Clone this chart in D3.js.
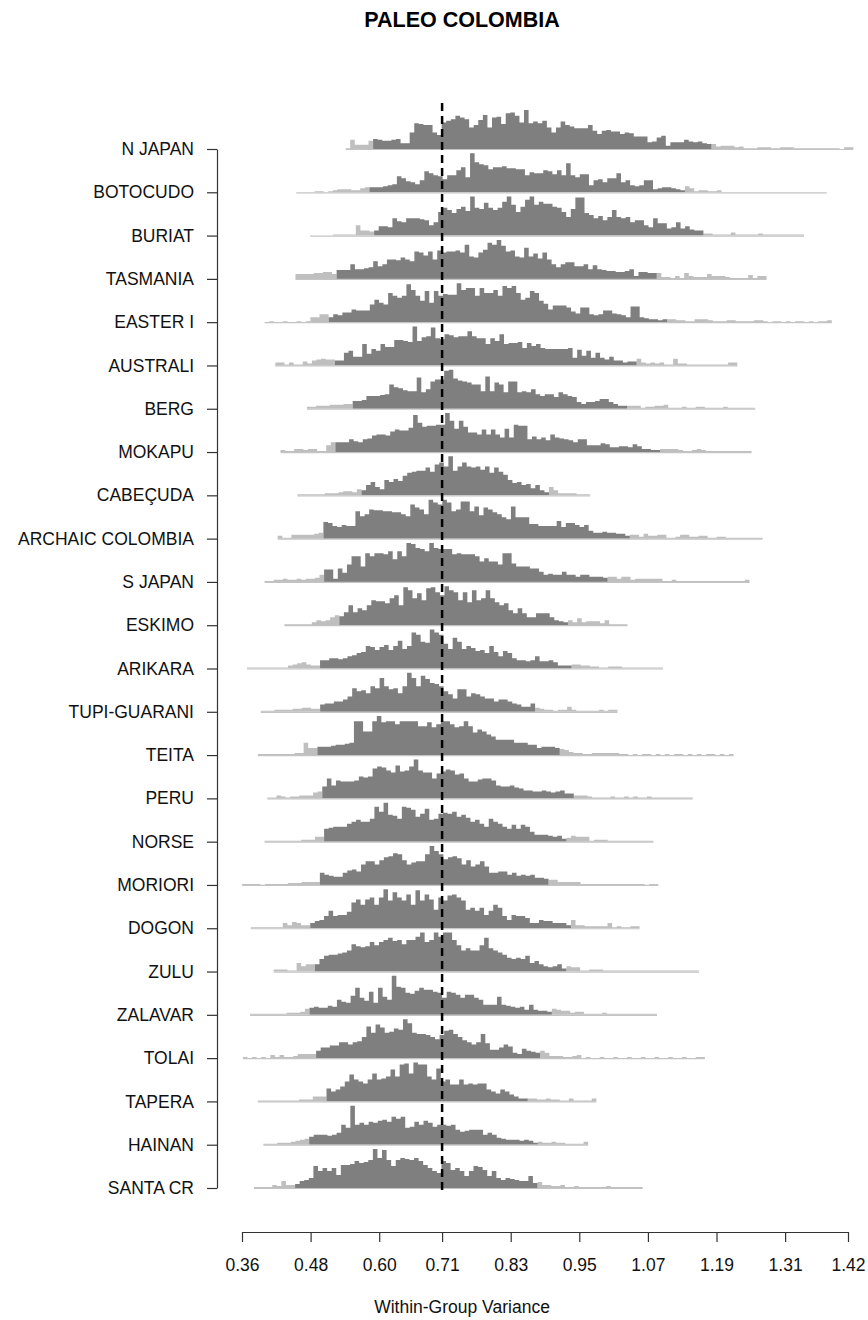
<!DOCTYPE html>
<html>
  <head>
    <meta charset="utf-8" />
    <title>Paleo Colombia</title>
    <script src="https://d3js.org/d3.v7.min.js"></script>
    <style>
      body { margin: 0; background: #fff; }
      text { font-family: "Liberation Sans", Arial, sans-serif; }
    </style>
  </head>
  <body>
    <script>
      // groups, top to bottom
      const groups = ["N JAPAN", "BOTOCUDO", "BURIAT", "TASMANIA", "EASTER I", "AUSTRALI", "BERG",
        "MOKAPU", "CABEÇUDA", "ARCHAIC COLOMBIA", "S JAPAN", "ESKIMO", "ARIKARA", "TUPI-GUARANI",
        "TEITA", "PERU", "NORSE", "MORIORI", "DOGON", "ZULU", "ZALAVAR", "TOLAI", "TAPERA",
        "HAINAN", "SANTA CR"];

      // lower edge of the first bin of each histogram
      const starts = [0.5413, 0.4549, 0.4791, 0.4535, 0.3996, 0.4183, 0.4736, 0.4273, 0.4570,
        0.4224, 0.3996, 0.4342, 0.3685, 0.3927, 0.3878, 0.4044, 0.3996, 0.3602, 0.3754, 0.4155,
        0.3740, 0.3616, 0.3878, 0.3975, 0.3809];
      const binWidth = 0.008;

      // first and last bin inside the central (dark) interval
      const darkFrom = [6, 16, 14, 9, 14, 13, 10, 12, 14, 10, 13, 12, 16, 13, 13, 12, 13, 17, 13, 9, 13, 16, 15, 10, 9];
      const darkTo = [79, 84, 85, 78, 87, 78, 69, 82, 54, 76, 74, 61, 70, 59, 65, 66, 65, 66, 69, 63, 65, 64, 58, 59, 61];

      // bin counts per group
      const counts = [
        [1,11,5,5,5,10,12,11,10,10,11,12,7,7, 20,31,30,29,29,20,17,32,34,36,40,38,36,26,29,35,41,
         26,38,39,30,43,44,40,32,47,31,33,31,34,26,20,26,33,29,27,25, 25,25,29,22,18,22,23,21,21,18,20,19,15,15,15,8,9,14,16,4,
         8,8,8,11,9,8,9,7,6,6,3,4,4,4,2,3,1,1,1,2, 2,2,1,1,2,2,2,1,1,1,1,1,1,1,1,1,1,0,2,2],
        [0,0,0,0,1,1,0,1,2,3,3,3,2,2,4,5, 5,5,5,6,7,8,16,14,11,10,8,12,21,19,17,16,13,17,17,22,
         25,15,39,30,28,27,23,25,25,26,24,24,23,23,17,20,19,19,22,21, 18,22,17,29,17,15,18,18,7,12,13,10,14,14,19,10,12,7,6,7,
         12,12,3,4,5,5,4,3,2,6,4,1,2,2,1,1,2, 0,0,0,0,0,0,0,0,0,0,0,0,0,0,0,0,0,0,0,0,0,0,0],
        [0,0,0,0,0,1,1,1,1,1,10,5,5,4, 5,9,9,8,17,14,13,17,17,17,16,15,10,13,23,27,25,22,26,28,
         24,38,27,26,32,27,25,27,33,38,30,23,28,35,38,30,33,31,31,28, 27,23,18,26,37,37,22,20,17,19,15,18,25,18,17,18,13,15,15,10,
         8,17,12,12,7,8,13,7,9,6,5,5, 2,2,1,1,1,1,3,1,1,1,1,1,2,1,1,1,1,1,1,1,1,1],
        [5,5,5,5,6,6,7,7,5, 9,9,9,15,10,10,11,12,18,13,15,20,20,19,22,20,18,28,27,24,
         28,20,29,27,28,28,29,27,35,23,22,27,30,37,35,40,34,28,29,23, 22,32,23,26,21,27,20,15,12,15,17,17,13,13,15,10,14,10,9,8,
         8,7,7,8,10,3,7,7,6,6, 6,2,2,1,3,1,6,3,2,2,2,5,3,3,3,2,1,1,1,1,4,1,3,3],
        [0,1,0,0,1,0,0,1,0,1,5,5,8,8, 5,8,7,10,10,13,12,12,12,18,23,20,18,30,27,25,27,39,33,27,
         22,32,20,32,27,29,28,28,40,33,35,35,27,35,30,30,33,27,37,35, 37,30,23,25,32,30,22,19,13,17,17,17,15,11,9,15,15,8,7,8,
         12,12,9,8,7,5,16,16,5,4,3,3,2,3, 3,3,2,2,1,1,3,3,3,2,1,1,1,2,2,1,1,1,1,2,2, 1,0,1,1,0,1,0,1,1,0,1,0,1,1,2],
        [3,3,1,3,1,1,4,2,5,6,7,6,6, 5,5,13,15,9,9,22,12,17,15,22,19,19,26,26,25,24,40,25,29,
         30,39,28,27,32,31,29,30,30,35,30,28,28,22,28,25,32,22,23,23, 24,18,23,20,22,18,17,17,17,17,17,18,8,16,10,15,8,13,8,6,
         9,5,5,3,4,4, 7,3,2,3,2,3,1,1,7,2,2,1,1,1,1,1,1,1,1,1,3,3],
        [2,2,3,3,3,4,4,4,5,5, 8,8,9,13,13,13,14,15,25,22,21,19,18,18,32,17,20,28,30,30,
         39,40,31,29,28,27,25,25,18,33,18,27,25,17,28,28,17,18,17,20, 15,13,15,15,12,17,15,13,12,7,5,7,7,8,10,10,7,5,3,3,
         3,3,3,1,2,2,3,3,4,1,1,1,2,1,1,2,2,1,1,1,1,2,1,1,1,1,1,1],
        [2,1,1,3,3,2,3,3,1,1,7,10, 10,10,10,13,11,10,13,14,17,18,18,17,21,23,22,22,25,38,30,26,
         27,27,28,28,40,32,24,32,26,20,20,18,23,18,23,18,15,24,15,28, 27,27,13,16,13,15,12,18,15,14,13,12,10,13,13,7,7,7,9,8,
         5,5,6,6,5,8,6,3,3,2,2, 3,3,3,3,2,1,1,2,3,2,1,1,1,1,1,1,1,1,1,1],
        [1,1,1,1,1,1,2,2,2,3,4,4,3,6, 5,10,13,8,6,15,13,16,14,19,22,23,24,24,27,23,30,32,28,38,
         24,28,32,28,27,28,25,28,22,27,23,20,15,12,13,10,11,7,10,5,3, 8,5,2,2,2,2,1,1,1],
        [3,1,1,4,4,4,4,4,5,6, 17,16,13,12,14,13,13,28,23,25,30,29,29,28,28,27,27,25,23,35,
         32,30,25,40,37,35,40,37,28,30,38,38,28,33,24,32,30,27,25,22, 20,33,22,22,22,15,15,13,13,13,13,18,12,16,16,14,12,14,8,6,
         6,7,6,6,5,5,3, 4,4,2,5,3,3,4,4,1,1,2,4,4,2,2,3,3,1,1,2,2,1,1,1,1,1,1,1,1],
        [1,1,2,2,3,2,2,3,2,3,3,4,7, 12,12,3,13,9,17,25,25,15,28,25,28,28,27,30,22,30,25,38,37,
         33,32,30,38,33,32,32,32,27,28,27,27,27,25,20,23,20,20,17,28, 28,18,15,15,15,13,13,10,7,8,7,7,10,7,7,5,7,7,5,5,5,4,
         5,5,3,5,5,2,3,3,3,3,3,3,1,1,2,1,1,1,1,1,1,1,1,1,1,1,1,1,1,1,2],
        [1,1,1,1,1,1,3,5,4,5,8,10, 9,13,20,13,17,15,20,25,24,24,22,27,30,20,38,35,27,32,25,37,
         38,33,30,39,35,33,25,33,23,35,25,27,35,27,23,20,22,15,12,17, 12,8,8,12,12,12,8,5,4,3, 5,3,7,3,4,4,4,2,5,1,1,1,1],
        [1,1,1,1,1,1,1,1,1,3,4,5,6,4,3,3, 8,8,10,10,9,10,12,13,15,16,22,21,18,21,23,18,22,27,19,22,
         35,33,26,25,38,35,33,24,19,30,26,19,22,20,17,18,15,22,16,12, 17,15,10,8,8,7,8,12,7,7,8,6,3,3,3,
         4,4,3,3,2,2,1,1,2,2,2,1,1,1,1,1,1,1,1,1],
        [1,1,1,2,2,2,2,3,3,4,4,3,3, 7,8,8,10,10,12,15,23,20,21,18,25,23,33,25,22,23,18,25,38,
         33,25,35,32,28,27,25,20,17,13,22,22,15,18,17,15,13,13,10,12, 12,10,8,7,5,5,8, 4,3,2,2,1,2,2,5,2,1,1,1,1,1,2,1,2,2],
        [1,1,1,1,1,1,1,1,2,2,12,7,7, 8,8,8,9,10,10,11,12,33,33,23,23,33,38,32,33,33,30,33,33,
         33,33,28,28,32,27,30,33,33,30,27,28,33,28,22,25,23,20,18,15, 15,15,15,12,12,12,10,10,7,8,8,8,7,
         6,5,3,2,2,1,1,2,2,2,2,2,2,1, 1,0,1,0,1,1,0,1,0,1,0,1,1,0,1,0,1,0,1,1,0,1,0,1],
        [1,1,3,2,1,2,2,3,3,3,6,7, 12,20,13,18,17,17,17,18,22,21,22,30,32,31,28,26,33,27,28,32,
         39,28,26,26,20,25,27,29,28,24,25,20,17,17,19,20,20,18,13,12, 12,13,11,10,8,8,7,7,8,7,6,7,8,5,5,
         3,3,3,2,1,1,1,1,2,1,1,2,1,2,1,1,2,1,1,1,1,1,1,1,1,1],
        [1,1,1,1,1,1,1,1,2,2,2,5,5, 13,14,15,15,15,18,20,22,20,20,23,35,30,39,27,26,23,35,34,32,
         25,28,33,22,23,28,29,28,30,25,27,24,20,22,18,15,23,20,18,15, 13,17,13,17,15,10,7,7,7,6,5,6,3,
         4,6,5,5,5,1,2,2,2,1,1,1,1,1,1,1,1,1,1],
        [1,1,1,1,0,1,1,1,1,1,2,2,2,3,3,3,3, 12,10,9,8,8,12,14,15,13,20,23,23,20,24,27,28,31,30,24,20,
         22,23,23,30,38,33,30,25,27,28,26,20,24,18,20,23,18,12,12,13, 13,10,12,9,10,9,10,7,7,6,
         5,5,3,3,3,3,3,1,1,1,1,1,1,1,1,1,1,1,1,1,1,0,1,1],
        [1,1,1,1,1,1,1,5,3,6,5,3,3, 5,7,8,12,17,12,13,13,16,25,28,23,28,30,23,30,38,27,35,30,
         27,33,23,37,27,33,28,18,30,27,32,33,30,27,18,20,17,20,13,17, 23,20,12,8,13,12,12,10,5,5,8,7,7,5,5,5,3,
         8,3,3,2,2,2,2,2,5,1,2,1,1,2,2],
        [2,2,2,1,1,8,5,7,7, 7,12,15,16,16,17,18,20,26,24,23,24,28,25,28,30,32,29,30,26,
         30,30,33,37,28,30,37,33,37,37,30,25,20,22,20,20,25,32,22,20, 18,16,13,12,13,12,15,8,10,7,5,4,5,7,3,
         5,4,4,1,1,2,2,2,1,1,1,1,1,1,1,1,1,1,1,1,1,1,1,1,1,1,1,1,1],
        [1,1,1,1,1,1,1,1,2,2,2,3,6, 7,8,7,7,9,8,15,13,12,19,27,17,14,23,12,27,18,15,39,28,
         27,22,21,24,27,25,25,23,22,17,23,22,20,17,20,20,17,15,10,10, 10,18,10,9,8,7,8,5,10,5,4,4,3,
         6,5,4,4,2,3,3,1,1,1,1,2,1,1,1,1,1,1,1,1,1,1,1],
        [1,0,1,0,1,0,3,1,3,1,1,2,4,4,4,4, 7,10,10,12,12,15,15,13,15,16,20,30,24,32,29,24,25,28,27,37,
         33,24,23,23,22,20,18,22,26,27,23,20,17,15,13,15,23,14,8,8, 10,13,11,5,4,9,7,6,5, 7,5,2,2,2,1,1,2,3,
         0,1,0,0,1,0,0,1,0,0,1,0,0,1,0,0,1,0,0,1,0,0,1,0,0,1,1],
        [1,1,1,1,1,1,1,1,1,2,2,2,5,5,5, 13,10,12,15,20,27,22,20,18,22,28,22,23,25,32,25,37,38,28,39,
         37,37,25,22,33,20,22,17,17,22,17,18,17,18,18,12,10,8,12,10, 7,5,3,3, 3,3,2,2,3,2,2,1,1,3,1,1,1,1,3],
        [1,1,1,2,2,2,3,4,5,6, 8,10,10,10,9,10,12,20,17,39,20,22,20,23,22,24,25,23,28,26,
         28,17,18,23,20,24,22,18,20,20,19,20,15,13,14,15,15,15,10,12, 10,7,6,5,5,5,4,5,4,2, 3,2,2,3,2,2,1,1,1,1,3],
        [1,1,1,1,3,2,7,3,3, 4,7,8,10,22,17,20,17,20,13,23,23,24,27,25,26,28,39,30,38,
         28,22,28,30,29,28,30,27,23,20,17,15,27,25,18,20,17,12,17,22, 21,18,12,17,10,8,10,9,8,7,7,12,5,
         6,3,3,2,2,3,1,1,2,1,1,1,1,1,1,2,1,1,1,1,1,1,1]
      ];

      // axis
      const tickVals = [0.36, 0.48, 0.60, 0.71, 0.83, 0.95, 1.07, 1.19, 1.31, 1.42];
      const refValue = 0.71;

      const width = 868, height = 1320;
      const svg = d3.select("body").append("svg")
        .attr("width", width)
        .attr("height", height);

      const x = d3.scaleLinear().domain([0.36, 1.42]).range([242, 848]);
      const y = d3.scalePoint().domain(groups).range([149, 1188]);
      const barMax = 39;

      const darkCol = "#7f7f7f", lightCol = "#bfbfbf";

      groups.forEach((g, r) => {
        const c = counts[r];
        const h = d3.scaleLinear().domain([0, d3.max(c)]).range([0, barMax]);
        const base = y(g);
        const bins = c.map((v, i) => ({
          x0: starts[r] + i * binWidth,
          x1: starts[r] + (i + 1) * binWidth,
          v: v
        }));

        // split into left tail, central part, right tail
        const parts = [
          { bins: bins.slice(0, darkFrom[r]), fill: lightCol },
          { bins: bins.slice(darkTo[r] + 1), fill: lightCol },
          { bins: bins.slice(darkFrom[r], darkTo[r] + 1), fill: darkCol }
        ];

        const area = d3.area()
          .x(d => x(d.x))
          .y0(base)
          .y1(d => base - h(d.v))
          .curve(d3.curveStepAfter);

        parts.forEach(p => {
          if (!p.bins.length) return;
          const pts = p.bins.map(b => ({ x: b.x0, v: b.v }));
          const last = p.bins[p.bins.length - 1];
          pts.push({ x: last.x1, v: last.v });
          svg.append("path")
            .datum(pts)
            .attr("d", area)
            .attr("fill", p.fill);
        });

        // thin line over the full range of the values
        svg.append("line")
          .attr("x1", x(bins[0].x0))
          .attr("x2", x(bins[bins.length - 1].x1))
          .attr("y1", base + 0.5)
          .attr("y2", base + 0.5)
          .attr("stroke", "#c4c4c4")
          .attr("stroke-width", 1.2);
      });

      // reference line
      svg.append("line")
        .attr("x1", x(refValue))
        .attr("x2", x(refValue))
        .attr("y1", 103)
        .attr("y2", 1191)
        .attr("stroke", "#000")
        .attr("stroke-width", 2.5)
        .attr("stroke-dasharray", "8,5");

      // y axis with group names
      const yAxis = svg.append("g")
        .attr("transform", "translate(217,0)")
        .call(d3.axisLeft(y).tickSize(10).tickPadding(13).tickSizeOuter(0));
      yAxis.selectAll("text")
        .attr("font-size", "17.5px")
        .attr("font-family", "Liberation Sans, Arial, sans-serif")
        .attr("fill", "#111");
      yAxis.selectAll("path, line").attr("stroke", "#333").attr("stroke-width", 1.2);

      // x axis
      const xAxis = svg.append("g")
        .attr("transform", "translate(0,1232)")
        .call(d3.axisBottom(x).tickValues(tickVals).tickFormat(d3.format(".2f"))
          .tickSize(10).tickPadding(17).tickSizeOuter(0));
      xAxis.selectAll("text")
        .attr("font-size", "17.5px")
        .attr("font-family", "Liberation Sans, Arial, sans-serif")
        .attr("fill", "#111");
      xAxis.selectAll("path, line").attr("stroke", "#333").attr("stroke-width", 1.2);

      svg.append("text")
        .attr("x", 462)
        .attr("y", 1313)
        .attr("text-anchor", "middle")
        .style("font-size", "17.5px")
        .style("fill", "#111")
        .text("Within-Group Variance");

      svg.append("text")
        .attr("x", 462)
        .attr("y", 27)
        .attr("text-anchor", "middle")
        .style("font-size", "21.5px")
        .style("font-weight", "bold")
        .style("fill", "#000")
        .text("PALEO COLOMBIA");
    </script>
  </body>
</html>
